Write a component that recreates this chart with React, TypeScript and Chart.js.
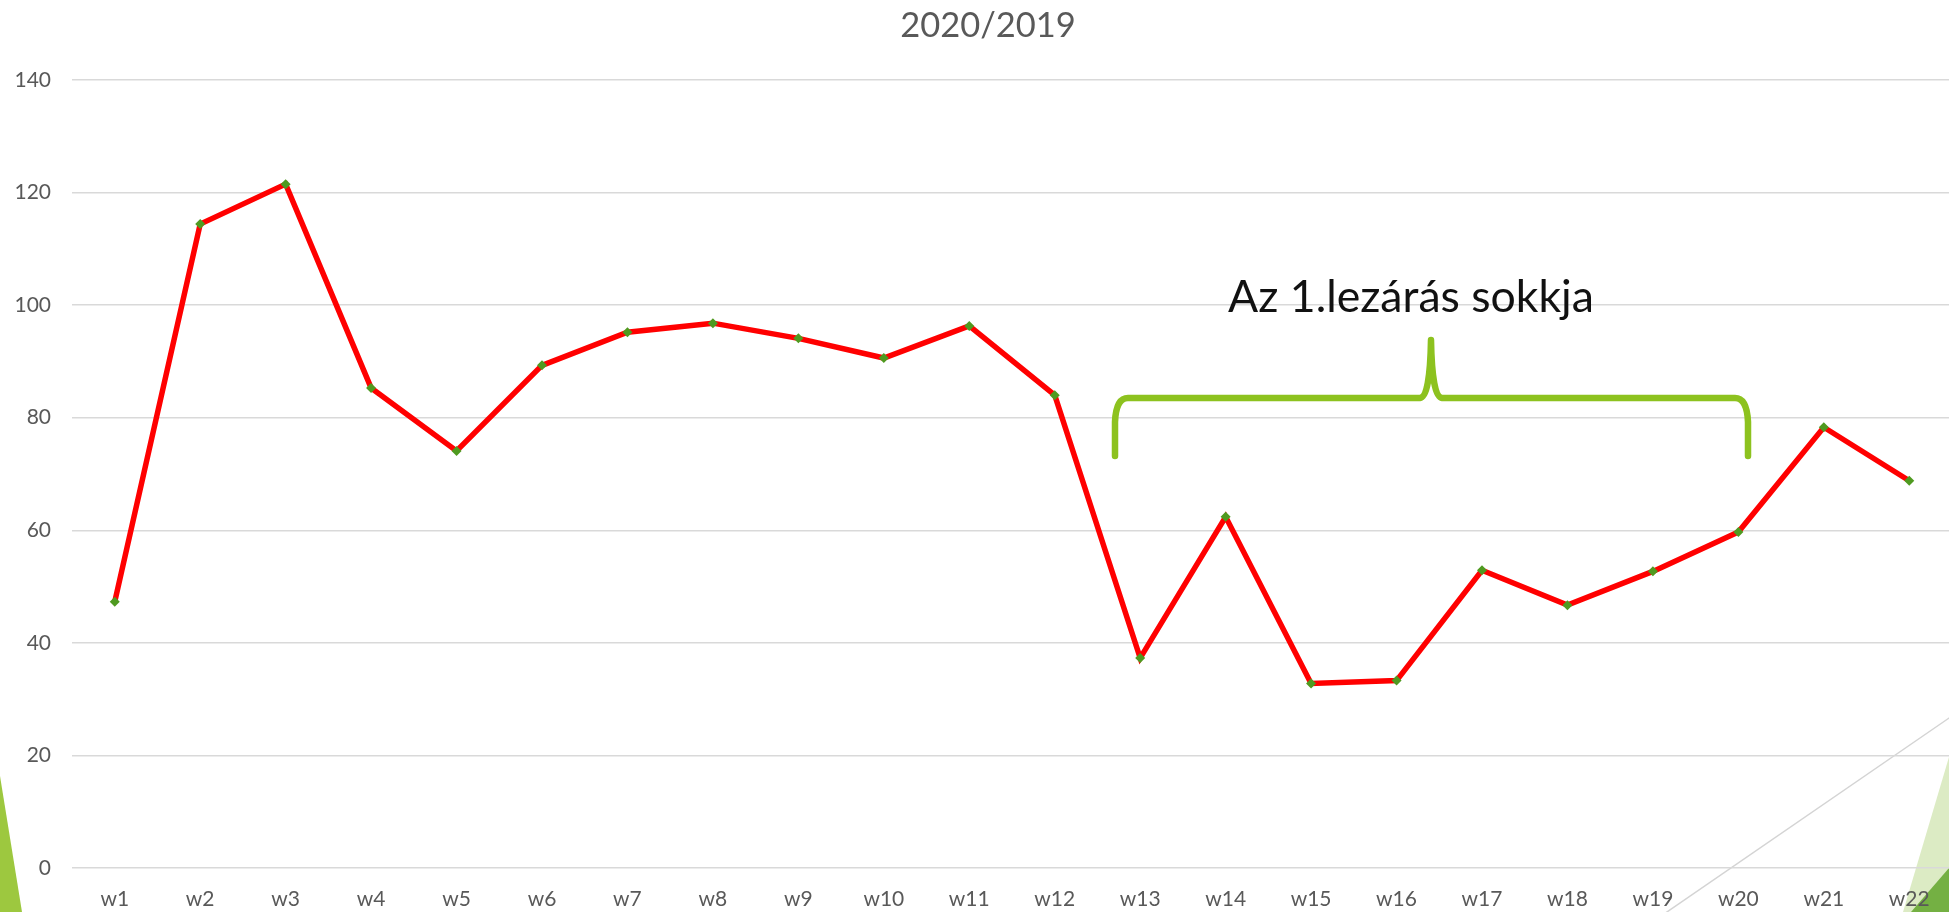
import React, { useEffect, useRef } from "react";
import { Chart, registerables } from "chart.js";

Chart.register(...registerables);

const weeks = ["w1","w2","w3","w4","w5","w6","w7","w8","w9","w10","w11","w12","w13","w14","w15","w16","w17","w18","w19","w20","w21","w22"];
const ratio20202019 = [47.3,114.4,121.5,85.3,74.1,89.3,95.2,96.8,94.1,90.6,96.3,84.0,37.3,62.4,32.8,33.3,52.9,46.7,52.7,59.7,78.3,68.8];
const chartTitle = "2020/2019";
const annotationText = "Az 1.lezárás sokkja";
const yMin = 0;
const yMax = 140;
const yStep = 20;

const FONT = "Lato, 'Open Sans', sans-serif";
const AXIS_COLOR = "#595959";

const decorPlugin = {
  id: "decor",
  beforeDraw(chart: any) {
    const ctx = chart.ctx;
    ctx.save();
    ctx.fillStyle = "#9DC83F";
    ctx.beginPath();
    ctx.moveTo(0, 776);
    ctx.lineTo(22, 912);
    ctx.lineTo(0, 912);
    ctx.closePath();
    ctx.fill();
    ctx.fillStyle = "#DCEBC4";
    ctx.beginPath();
    ctx.moveTo(1949, 757);
    ctx.lineTo(1949, 912);
    ctx.lineTo(1903, 912);
    ctx.closePath();
    ctx.fill();
    ctx.fillStyle = "#74B043";
    ctx.beginPath();
    ctx.moveTo(1949, 868);
    ctx.lineTo(1949, 912);
    ctx.lineTo(1911, 912);
    ctx.closePath();
    ctx.fill();
    ctx.strokeStyle = "#D4D4D4";
    ctx.lineWidth = 1.5;
    ctx.beginPath();
    ctx.moveTo(1952, 716);
    ctx.lineTo(1664, 914);
    ctx.stroke();
    ctx.restore();
  },
  afterDraw(chart: any) {
    const ctx = chart.ctx;
    ctx.save();
    // chart title, centred on the original (wider) chart box
    ctx.font = `34.5px ${FONT}`;
    ctx.fillStyle = AXIS_COLOR;
    ctx.textAlign = "center";
    ctx.textBaseline = "middle";
    ctx.fillText(chartTitle, 988, 26);
    // curly brace
    ctx.strokeStyle = "#8DC21F";
    ctx.lineWidth = 6.5;
    ctx.lineCap = "round";
    ctx.lineJoin = "round";
    ctx.beginPath();
    ctx.moveTo(1115, 456);
    ctx.lineTo(1115, 422);
    ctx.quadraticCurveTo(1116, 398, 1128, 398);
    ctx.lineTo(1420, 398);
    ctx.quadraticCurveTo(1430, 397, 1431, 340);
    ctx.quadraticCurveTo(1432, 397, 1442, 398);
    ctx.lineTo(1735, 398);
    ctx.quadraticCurveTo(1747, 398, 1748, 422);
    ctx.lineTo(1748, 456);
    ctx.stroke();
    const targetWidth = 366;
    ctx.font = `44px ${FONT}`;
    const w = ctx.measureText(annotationText).width;
    const size = 44 * targetWidth / w;
    ctx.font = `${size}px ${FONT}`;
    ctx.fillStyle = "#111111";
    ctx.textAlign = "center";
    ctx.textBaseline = "alphabetic";
    ctx.fillText(annotationText, 1411, 312);
    ctx.restore();
  },
};

export default function App() {
  const ref = useRef<HTMLCanvasElement | null>(null);

  useEffect(() => {
    document.body.style.margin = "0";
    document.body.style.overflow = "hidden";
    document.documentElement.style.overflow = "hidden";
    const canvas = ref.current;
    if (!canvas) return;
    const chart = new Chart(canvas, {
      type: "line",
      data: {
        labels: weeks,
        datasets: [
          {
            label: chartTitle,
            data: ratio20202019,
            borderColor: "#FF0000",
            borderWidth: 5.5,
            tension: 0,
            pointStyle: "rectRot",
            pointRadius: 5,
            pointBackgroundColor: "#4F9A20",
            pointBorderColor: "#4F9A20",
            pointBorderWidth: 0,
            fill: false,
          },
        ],
      },
      options: {
        responsive: false,
        animation: false,
        devicePixelRatio: 1,
        layout: { padding: { left: 0, right: 24, top: 80, bottom: 0 } },
        plugins: {
          legend: { display: false },
          tooltip: { enabled: false },
          title: { display: false },
        },
        scales: {
          x: {
            offset: true,
            grid: { display: false, drawTicks: false },
            border: { display: false },
            ticks: {
              color: AXIS_COLOR,
              font: { family: FONT, size: 21 },
              padding: 19,
              maxRotation: 0,
              autoSkip: false,
            },
            afterFit(scale: any) {
              scale.height = 44;
            },
          },
          y: {
            min: yMin,
            max: yMax,
            ticks: {
              stepSize: yStep,
              color: AXIS_COLOR,
              font: { family: FONT, size: 21 },
              padding: 21,
            },
            grid: { color: "#D9D9D9", lineWidth: 1.5, drawTicks: false },
            border: { display: false },
            afterFit(scale: any) {
              scale.width = 72;
            },
          },
        },
      },
      plugins: [decorPlugin],
    });
    return () => chart.destroy();
  }, []);

  return (
    <div style={{ width: 1949, height: 912, overflow: "hidden", position: "relative", background: "#fff" }}>
      <canvas ref={ref} width={1976} height={912} style={{ display: "block", width: 1976, height: 912 }} />
    </div>
  );
}
